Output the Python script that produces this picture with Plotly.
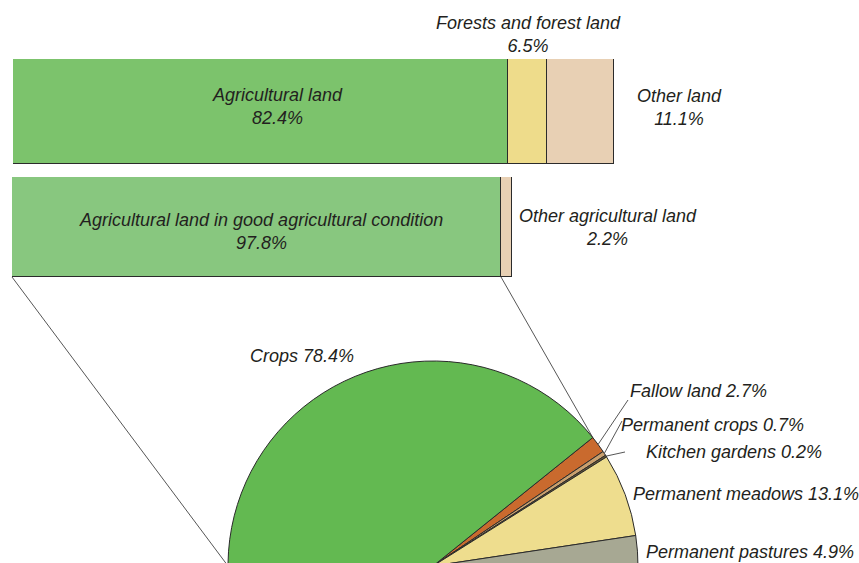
import math
import plotly.graph_objects as go

# figure is taller than the 563 px window, so the pie gets cut by the bottom edge
W, H = 859, 780

FONT = dict(family='Liberation Sans, Arial, sans-serif', size=18, color='#231F20', style='italic')
EDGE = '#2B2B2B'

# land use, share of total area (%)
land_labels = ['Agricultural land', 'Forests and forest land', 'Other land']
land_share = [82.4, 6.5, 11.1]
land_colors = ['#7CC36C', '#EEDC8B', '#E8D0B4']

# split of agricultural land (%)
agri_labels = ['Agricultural land in good agricultural condition', 'Other agricultural land']
agri_share = [97.8, 2.2]
agri_colors = ['#88C77F', '#E8D0B4']

# land in good agricultural condition, printed shares (%)
use_labels = ['Fallow land', 'Permanent crops', 'Kitchen gardens',
              'Permanent meadows', 'Permanent pastures', 'Crops']
use_share = [2.7, 0.7, 0.2, 13.1, 4.9, 78.4]
# slice sizes as drawn in the reference (its pie is not to scale)
use_drawn = [1.35, 0.35, 0.15, 6.55, 2.45, 89.15]
use_colors = ['#C96A2E', '#C9A06E', '#6B5A35', '#EEDD8E', '#A7A893', '#63B951']


# window pixels -> paper coordinates
def fx(x):
    return x / W


def fy(y):
    return 1 - y / H


# pixel geometry of the layout (window pixels)
BAR1 = (13, 614, 59, 164)   # left, right, top, bottom
BAR2 = (12, 512, 177, 277)
CX, CY, R = 433, 566, 205   # pie centre and radius
START = 38.8                # degrees above 3 o'clock where the first slice starts


def arc_point(deg, r=R):
    a = math.radians(deg)
    return CX + r * math.cos(a), CY - r * math.sin(a)


fig = go.Figure()

for lab, val, col in zip(land_labels, land_share, land_colors):
    fig.add_trace(go.Bar(x=[val], y=[0], orientation='h', width=1, name=lab,
                         marker=dict(color=col, line=dict(color=EDGE, width=1)),
                         xaxis='x', yaxis='y', hoverinfo='skip'))

for lab, val, col in zip(agri_labels, agri_share, agri_colors):
    fig.add_trace(go.Bar(x=[val], y=[0], orientation='h', width=1, name=lab,
                         marker=dict(color=col, line=dict(color=EDGE, width=1)),
                         xaxis='x2', yaxis='y2', hoverinfo='skip'))

fig.add_trace(go.Pie(
    labels=use_labels, values=use_drawn, sort=False, direction='clockwise',
    rotation=90 - START, textinfo='none', hoverinfo='skip',
    marker=dict(colors=use_colors, line=dict(color=EDGE, width=1)),
    domain=dict(x=[fx(CX - R), fx(CX + R)], y=[fy(CY + R), fy(CY - R)]),
))

# slice boundary angles
total = sum(use_drawn)
bounds = [START]
for v in use_drawn:
    bounds.append(bounds[-1] - 360 * v / total)
mids = [(a + b) / 2 for a, b in zip(bounds[:-1], bounds[1:])]

shapes = []


def seg(p, q, w=1):
    shapes.append(dict(type='line', xref='paper', yref='paper',
                       x0=fx(p[0]), y0=fy(p[1]), x1=fx(q[0]), y1=fy(q[1]),
                       line=dict(color=EDGE, width=w)))


# connectors from the second bar down to the pie
split_x = BAR2[0] + (BAR2[1] - BAR2[0]) * agri_share[0] / 100
seg((BAR2[0], BAR2[3]), arc_point(180), 0.8)
seg((split_x, BAR2[3]), arc_point(START), 0.8)

# leader lines for the thin slices
seg(arc_point(mids[0]), (628, 400), 0.8)
seg(arc_point(mids[1]), (622, 421), 0.8)
seg(arc_point(mids[2]), (625, 452), 0.8)

annotations = []


def label(text, x, y, anchor='center'):
    annotations.append(dict(text=text, x=fx(x), y=fy(y), xref='paper', yref='paper',
                            xanchor=anchor, yanchor='middle', showarrow=False,
                            align='center', font=FONT))


label(f'{land_labels[0]}<br>{land_share[0]}%', 277, 107)
label(f'{land_labels[1]}<br>{land_share[1]}%', 528, 35)
label(f'{land_labels[2]}<br>{land_share[2]}%', 679, 108)
label(f'{agri_labels[0]}<br>{agri_share[0]}%', 261, 231)
label(f'{agri_labels[1]}<br>{agri_share[1]}%', 608, 227)

pie_text_pos = {
    'Crops': (248, 356),
    'Fallow land': (628, 391),
    'Permanent crops': (619, 425),
    'Kitchen gardens': (644, 452),
    'Permanent meadows': (631, 494),
    'Permanent pastures': (644, 552),
}
for lab, val in zip(use_labels, use_share):
    x, y = pie_text_pos[lab]
    label(f'{lab} {val}%', x, y, anchor='left')

fig.update_layout(
    width=W, height=H,
    margin=dict(l=0, r=0, t=0, b=0),
    paper_bgcolor='white', plot_bgcolor='white',
    barmode='stack', showlegend=False, bargap=0,
    xaxis=dict(domain=[fx(BAR1[0]), fx(BAR1[1])], range=[0, 100], visible=False),
    yaxis=dict(domain=[fy(BAR1[3]), fy(BAR1[2])], range=[-0.5, 0.5], visible=False),
    xaxis2=dict(domain=[fx(BAR2[0]), fx(BAR2[1])], range=[0, 100], visible=False, anchor='y2'),
    yaxis2=dict(domain=[fy(BAR2[3]), fy(BAR2[2])], range=[-0.5, 0.5], visible=False, anchor='x2'),
    shapes=shapes,
    annotations=annotations,
)

# page without body margin or scrollbars, so the figure sits at the window's top-left
fig.write_html('out.html', config={'displayModeBar': False},
               post_script="document.body.style.margin='0';"
                           "document.documentElement.style.overflow='hidden';")
